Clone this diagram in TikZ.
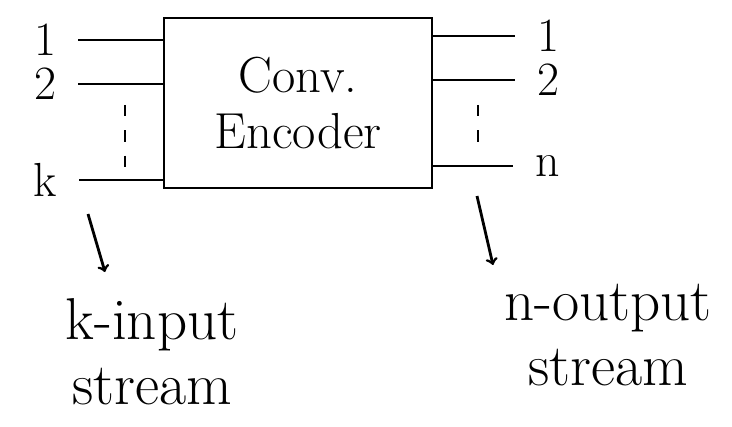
\documentclass[tikz,border=0pt]{standalone}
\usepackage{tikz}
\begin{document}
\begin{tikzpicture}[x=0.025cm, y=-0.025cm, line width=2pt,
		lbl/.style={font=\fontsize{36}{40}\selectfont, align=center},
		tag/.style={font=\fontsize{34}{36}\selectfont, inner sep=1pt},
		big/.style={font=\fontsize{42}{46}\selectfont, align=center}]
	% Frame
	\useasboundingbox (0,0) rectangle (732,427);
	% Encoder box
	\node[draw, minimum width=6.7cm, minimum height=4.25cm, lbl] (enc) at (298,103) {Conv.\\Encoder};
	% Input lines
	\foreach \y/\t/\n in {40/1/a, 84/2/b, 180/k/c} {
		\node[tag] (in\n) at (45,\y) {\t};
		\draw[shorten <=14pt] (in\n) -- (in\n -| enc.west);
	}
	\draw[dash pattern=on 8pt off 10pt] (125,105) -- (125,172);
	% Output lines
	\foreach \y/\t/\n in {36/1/a, 80/2/b, 166/n/c} {
		\node[tag] (out\n) at (548,\y) {\t};
		\draw[shorten >=14pt] (enc.east |- out\n) -- (out\n);
	}
	\draw[dash pattern=on 8pt off 10pt] (478,105) -- (478,142);
	% Stream labels
	\node[big] (kin) at (152,352) {k-input\\stream};
	\node[big] (nout) at (608,335) {n-output\\stream};
	\coordinate (ka) at (88,214);
	\coordinate (kb) at (105,272);
	\coordinate (na) at (477,196);
	\coordinate (nb) at (493,265);
	\draw[->] (ka) -- (kb);
	\draw[->] (na) -- (nb);
\end{tikzpicture}
\end{document}
